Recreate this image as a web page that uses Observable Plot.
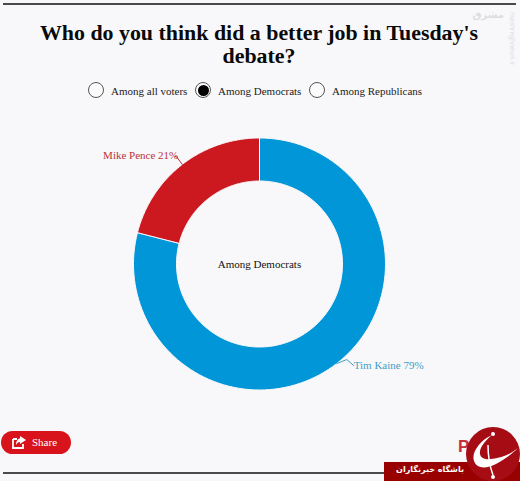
<!DOCTYPE html>
<html>
<head>
<meta charset="utf-8">
<script src="https://cdn.jsdelivr.net/npm/d3@7"></script>
<script src="https://cdn.jsdelivr.net/npm/@observablehq/plot@0.6"></script>
<style>
html,body{margin:0;padding:0;background:#f8f8fa;width:520px;height:481px;overflow:hidden;font-family:"Liberation Serif",serif;color:#111}
#page{position:relative;width:520px;height:481px;overflow:hidden}
.rule{position:absolute;left:3px;width:513px;height:2px;background:#4a4a4a}
#header{position:absolute;left:0;top:0;width:520px;height:110px}
#title{position:absolute;left:20px;width:478px;top:22px;margin:0;text-align:center;font-size:21.9px;line-height:22.5px;font-weight:bold;color:#0a0a0a}
.opt{position:absolute;top:82px;height:16px;font-size:11px;line-height:18px;color:#222;white-space:nowrap}
.opt i{position:absolute;left:-23px;top:0;width:14px;height:14px;border:1px solid #555;border-radius:50%;background:#fbfbfc}
.opt.on i::after{content:"";position:absolute;left:1.5px;top:1.5px;width:11px;height:11px;border-radius:50%;background:#000}
#chart{position:absolute;left:0;top:110px}
#share{position:absolute;left:1px;top:431px;width:70px;height:23px;border-radius:12px;background:#d8131b;color:#fff;font-size:11px;line-height:23px}
#share span{position:absolute;left:31px}
#share svg{position:absolute;left:11px;top:4px}
#po{position:absolute;left:458px;top:437px;font:bold 17px "Liberation Sans",sans-serif;color:#c5303c}
#banner{position:absolute;left:384px;top:462px;width:136px;height:19px;background:#990000;color:#fff}
#banner span{position:absolute;right:56px;top:3px;font:bold 8px "DejaVu Sans",sans-serif;white-space:nowrap}
#logo{position:absolute;left:466px;top:427px}
#mark{position:absolute;right:16px;top:9px;font:bold 10px "DejaVu Sans",sans-serif;color:#dcdcdf;white-space:nowrap}
#site{position:absolute;left:509px;top:12px;font:7px "Liberation Sans",sans-serif;color:#dfdfe2;writing-mode:vertical-rl;white-space:nowrap}
</style>
</head>
<body>
<div id="page">
  <div class="rule" style="top:3px"></div>
  <div id="header"><h1 id="title"></h1></div>
  <div id="chart"></div>
  <div class="rule" style="top:472px"></div>
  <div id="share">
    <svg width="15" height="14" viewBox="0 0 15 14"><path d="M1 4h4M1 4v9h10V9" fill="none" stroke="#fff" stroke-width="1.8"/><path d="M8 1l6 4-6 4V7C6 7 5 8 4 10 4 6 6 3.500 8 3.500z" fill="#fff"/></svg>
    <span>Share</span>
  </div>
  <div id="po">PO</div>
  <div id="banner"><span dir="rtl">باشگاه خبرنگاران</span></div>
  <svg id="logo" width="54" height="54" viewBox="0 0 54 54">
    <circle cx="27" cy="27" r="27" fill="#a50c14"/>
    <path d="M26 8C14 13 5 26 8 34c3 8 12 8 22 3 8-4 16-10 22-16-8 6-14 9-21 10-8 2-16 2-17-4C13 21 19 14 26 8z" fill="#fff"/>
    <path d="M22 18c0 10 2 22 5 30" fill="none" stroke="#fff" stroke-width="1.500"/>
    <circle cx="27" cy="50" r="2" fill="#fff"/><circle cx="27" cy="7" r="2" fill="#fff"/>
  </svg>
  <div id="mark" dir="rtl">مشرق</div>
  <div id="site">mashreghnews.ir</div>
</div>
<script>
const titleText = "Who do you think did a better job in Tuesday's debate?";
const options = ["Among all voters", "Among Democrats", "Among Republicans"];
const optionLeft = [111, 218, 332];
const selected = "Among Democrats";
const candidates = ["Tim Kaine", "Mike Pence"];
const shares = [79, 21];
const fills = ["#0096d8", "#cc181f"];
const labelColors = ["#3f9dc6", "#b8323c"];

document.getElementById("title").textContent = titleText;
options.forEach((o, i) => {
  const d = document.createElement("div");
  d.className = "opt" + (o === selected ? " on" : "");
  d.style.left = optionLeft[i] + "px";
  d.innerHTML = "<i></i>" + o;
  document.getElementById("header").appendChild(d);
});

const outer = 126, inner = 83;
const total = d3.sum(shares);
let cum = 0;
const slices = candidates.map((name, i) => {
  const a0 = cum / total * 2 * Math.PI;
  cum += shares[i];
  const a1 = cum / total * 2 * Math.PI;
  return {name, share: shares[i], fill: fills[i], color: labelColors[i], a0, a1, mid: (a0 + a1) / 2};
});
const polar = (a, r) => ({x: r * Math.sin(a), y: r * Math.cos(a)});
const ring = slices.flatMap(s => {
  const ts = d3.range(0, 121).map(k => s.a0 + (s.a1 - s.a0) * k / 120);
  const pts = [...ts.map(a => polar(a, outer)), ...ts.reverse().map(a => polar(a, inner))];
  pts.push(pts[0]);
  return pts.map(p => ({...p, name: s.name}));
});
const leaders = slices.flatMap(s => {
  const side = Math.sin(s.mid) > 0;
  const start = polar(s.mid, outer);
  const bend = side ? {x: start.x + 10, y: start.y + 4} : {x: start.x - 6, y: start.y + 8};
  const end = side ? {x: bend.x + 7, y: bend.y - 6} : {x: bend.x - 1, y: bend.y};
  return [start, bend, end].map(p => ({...p, name: s.name, color: s.color}));
});
const labels = slices.map(s => {
  const side = Math.sin(s.mid) > 0;
  const p = polar(s.mid, outer);
  return {
    text: `${s.name} ${s.share}%`, color: s.color,
    x: side ? p.x + 17 : p.x - 4,
    y: side ? p.y - 2 : p.y + 9,
    anchor: side ? "start" : "end"
  };
});

const plot = Plot.plot({
  width: 520, height: 310,
  margin: 0,
  style: {background: "transparent", fontFamily: "Liberation Serif, serif", overflow: "visible"},
  x: {axis: null, domain: [-259, 261], range: [0, 520]},
  y: {axis: null, domain: [-156.5, 153.5], range: [310, 0]},
  marks: [
    Plot.line(ring, {x: "x", y: "y", z: "name", fill: d => slices.find(s => s.name === d.name).fill, stroke: "#f8f8fa", strokeWidth: 1, curve: "linear"}),
    Plot.line(leaders, {x: "x", y: "y", z: "name", stroke: "color", strokeWidth: 1, curve: "linear"}),
    Plot.text(labels.filter(d => d.anchor === "start"), {x: "x", y: "y", text: "text", fill: "color", textAnchor: "start", fontSize: 11}),
    Plot.text(labels.filter(d => d.anchor === "end"), {x: "x", y: "y", text: "text", fill: "color", textAnchor: "end", fontSize: 11}),
    Plot.text([selected], {x: () => 0, y: () => 0, text: d => d, fill: "#111", fontSize: 11})
  ]
});
document.getElementById("chart").appendChild(plot);
</script>
</body>
</html>
